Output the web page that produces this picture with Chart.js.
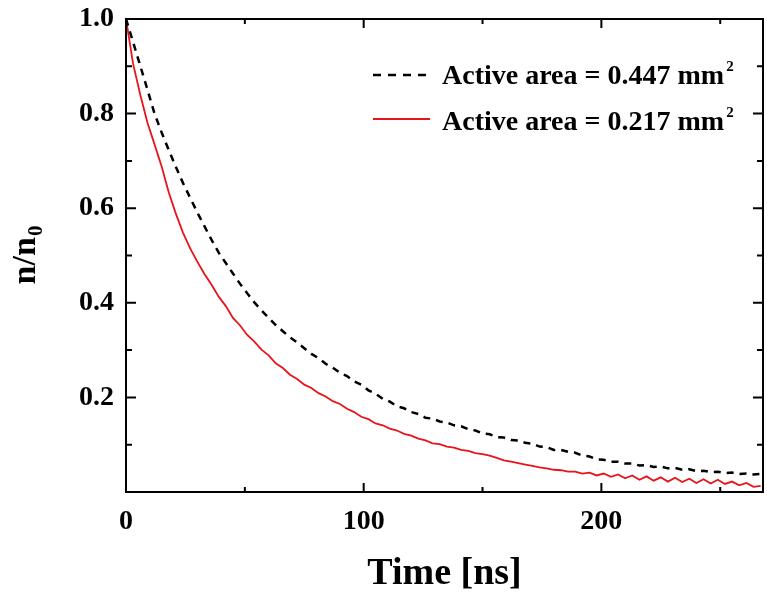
<!DOCTYPE html>
<html>
<head>
<meta charset="utf-8">
<script src="https://cdn.jsdelivr.net/npm/chart.js@4.4.1/dist/chart.umd.min.js"></script>
<style>
html, body { margin: 0; padding: 0; background: #fff; }
</style>
</head>
<body>
<canvas id="grafica" width="767" height="596"></canvas>
<script>
const tiempos = [0, 3, 6, 9, 12, 15, 18, 21, 24, 27, 30, 33, 36, 39, 42, 45, 48, 51, 54, 57,
  60, 63, 66, 69, 72, 75, 78, 81, 84, 87, 90, 93, 96, 99, 102, 105, 108, 111, 114, 117,
  120, 123, 126, 129, 132, 135, 138, 141, 144, 147, 150, 153, 156, 159, 162, 165, 168, 171, 174, 177,
  180, 183, 186, 189, 192, 195, 198, 201, 204, 207, 210, 213, 216, 219, 222, 225, 228, 231, 234, 237,
  240, 243, 246, 249, 252, 255, 258, 261, 264, 267]

const area447 = [1.000, 0.951, 0.901, 0.851, 0.800, 0.760, 0.723, 0.687, 0.653, 0.622, 0.591, 0.562, 0.533, 0.506, 0.484, 0.462, 0.440, 0.420, 0.401, 0.384,
  0.368, 0.353, 0.340, 0.327, 0.316, 0.304, 0.292, 0.283, 0.271, 0.263, 0.252, 0.245, 0.234, 0.227, 0.215, 0.208, 0.197, 0.191, 0.181, 0.177,
  0.169, 0.165, 0.157, 0.155, 0.149, 0.147, 0.141, 0.139, 0.133, 0.130, 0.124, 0.122, 0.116, 0.115, 0.110, 0.109, 0.104, 0.102, 0.096, 0.095,
  0.089, 0.089, 0.085, 0.083, 0.077, 0.075, 0.069, 0.068, 0.064, 0.064, 0.060, 0.060, 0.056, 0.057, 0.053, 0.054, 0.050, 0.051, 0.047, 0.048,
  0.044, 0.045, 0.042, 0.043, 0.040, 0.041, 0.038, 0.039, 0.037, 0.038]

const area217 = [1.000, 0.905, 0.840, 0.781, 0.735, 0.688, 0.633, 0.588, 0.548, 0.515, 0.487, 0.461, 0.438, 0.413, 0.393, 0.368, 0.352, 0.332, 0.318, 0.301,
  0.289, 0.272, 0.262, 0.248, 0.239, 0.227, 0.220, 0.209, 0.202, 0.192, 0.186, 0.176, 0.169, 0.159, 0.154, 0.145, 0.141, 0.134, 0.130, 0.123,
  0.119, 0.113, 0.109, 0.103, 0.101, 0.096, 0.094, 0.089, 0.087, 0.082, 0.080, 0.077, 0.072, 0.067, 0.064, 0.061, 0.058, 0.055, 0.052, 0.050,
  0.047, 0.046, 0.043, 0.043, 0.039, 0.041, 0.035, 0.039, 0.032, 0.037, 0.029, 0.035, 0.026, 0.033, 0.024, 0.031, 0.022, 0.030, 0.021, 0.028,
  0.019, 0.027, 0.018, 0.026, 0.017, 0.022, 0.014, 0.019, 0.011, 0.013]

const ticksX = [0, 100, 200]
const ticksY = [0.2, 0.4, 0.6, 0.8, 1.0]
const etiquetas = ["Active area = 0.447 mm", "Active area = 0.217 mm"]
const tituloX = "Time [ns]"

const fuente = "'Liberation Serif', 'Times New Roman', serif"

function puntos(valores) {
  return tiempos.map((t, i) => ({ x: t, y: valores[i] }))
}

// marco, ticks hacia adentro, titulos y leyenda
const marco = {
  id: "marco",
  afterDraw(chart) {
    const { ctx, chartArea: a, scales: { x, y } } = chart
    ctx.save()
    ctx.strokeStyle = "#000"
    ctx.lineWidth = 2
    ctx.setLineDash([])
    ctx.strokeRect(a.left, a.top, a.right - a.left, a.bottom - a.top)

    ctx.beginPath()
    for (let v = 50; v <= x.max; v += 50) {
      const px = x.getPixelForValue(v)
      const largo = v % 100 === 0 ? 9 : 5
      ctx.moveTo(px, a.bottom); ctx.lineTo(px, a.bottom - largo)
      ctx.moveTo(px, a.top); ctx.lineTo(px, a.top + largo)
    }
    for (let i = 1; i < 10; i++) {
      const py = y.getPixelForValue(i / 10)
      const largo = i % 2 === 0 ? 10 : 6
      ctx.moveTo(a.left, py); ctx.lineTo(a.left + largo, py)
      ctx.moveTo(a.right, py); ctx.lineTo(a.right - largo, py)
    }
    ctx.stroke()

    // titulo eje x
    ctx.fillStyle = "#000"
    ctx.font = "bold 38px " + fuente
    ctx.textAlign = "center"
    ctx.textBaseline = "alphabetic"
    ctx.fillText(tituloX, (a.left + a.right) / 2, 584)

    // titulo eje y: n/n0
    ctx.save()
    ctx.translate(35, (a.top + a.bottom) / 2)
    ctx.rotate(-Math.PI / 2)
    ctx.font = "bold 34px " + fuente
    const wn = ctx.measureText("n/n").width
    ctx.font = "bold 21px " + fuente
    const w0 = ctx.measureText("0").width
    const inicio = -(wn + w0) / 2
    ctx.textAlign = "left"
    ctx.font = "bold 34px " + fuente
    ctx.fillText("n/n", inicio, 0)
    ctx.font = "bold 21px " + fuente
    ctx.fillText("0", inicio + wn + 1, 7)
    ctx.restore()

    // leyenda
    const filas = [
      { y: 75, base: 84, color: "#000", dash: [8, 7], ancho: 2.5 },
      { y: 119, base: 130, color: "#e8141b", dash: [], ancho: 1.8 }
    ]
    filas.forEach((f, i) => {
      ctx.beginPath()
      ctx.strokeStyle = f.color
      ctx.lineWidth = f.ancho
      ctx.setLineDash(f.dash)
      ctx.moveTo(373, f.y); ctx.lineTo(430, f.y)
      ctx.stroke()
      ctx.setLineDash([])
      ctx.textAlign = "left"
      ctx.font = "bold 28px " + fuente
      ctx.fillText(etiquetas[i], 442, f.base)
      const w = ctx.measureText(etiquetas[i]).width
      ctx.font = "bold 15px " + fuente
      ctx.fillText("2", 442 + w + 2, f.base - 13)
    })
    ctx.restore()
  }
}

const config = {
  type: "line",
  data: {
    datasets: [
      {
        label: etiquetas[0] + "²",
        data: puntos(area447),
        borderColor: "#000",
        borderWidth: 2.5,
        borderDash: [7, 6],
        pointRadius: 0,
        tension: 0
      },
      {
        label: etiquetas[1] + "²",
        data: puntos(area217),
        borderColor: "#e8141b",
        borderWidth: 1.8,
        pointRadius: 0,
        tension: 0
      }
    ]
  },
  options: {
    responsive: false,
    animation: false,
    devicePixelRatio: 1,
    layout: { padding: { top: 19, right: 4, left: 0, bottom: 0 } },
    plugins: { legend: { display: false }, tooltip: { enabled: false } },
    scales: {
      x: {
        type: "linear",
        min: 0,
        max: 268,
        afterBuildTicks: (s) => { s.ticks = ticksX.map((v) => ({ value: v })) },
        afterFit: (s) => { s.height = 104; s.paddingLeft = 0; s.paddingRight = 0 },
        grid: { display: false, drawTicks: false },
        border: { display: false },
        ticks: {
          padding: 13,
          color: "#000",
          font: { family: fuente, size: 28, weight: "bold" },
          callback: (v) => String(v)
        }
      },
      y: {
        type: "linear",
        min: 0,
        max: 1,
        afterBuildTicks: (s) => { s.ticks = ticksY.map((v) => ({ value: v })) },
        afterFit: (s) => { s.width = 126; s.paddingTop = 0; s.paddingBottom = 0 },
        grid: { display: false, drawTicks: false },
        border: { display: false },
        ticks: {
          padding: 12,
          color: "#000",
          font: { family: fuente, size: 28, weight: "bold" },
          callback: (v) => v.toFixed(1)
        }
      }
    }
  },
  plugins: [marco]
}

new Chart(document.getElementById("grafica"), config)
</script>
</body>
</html>
